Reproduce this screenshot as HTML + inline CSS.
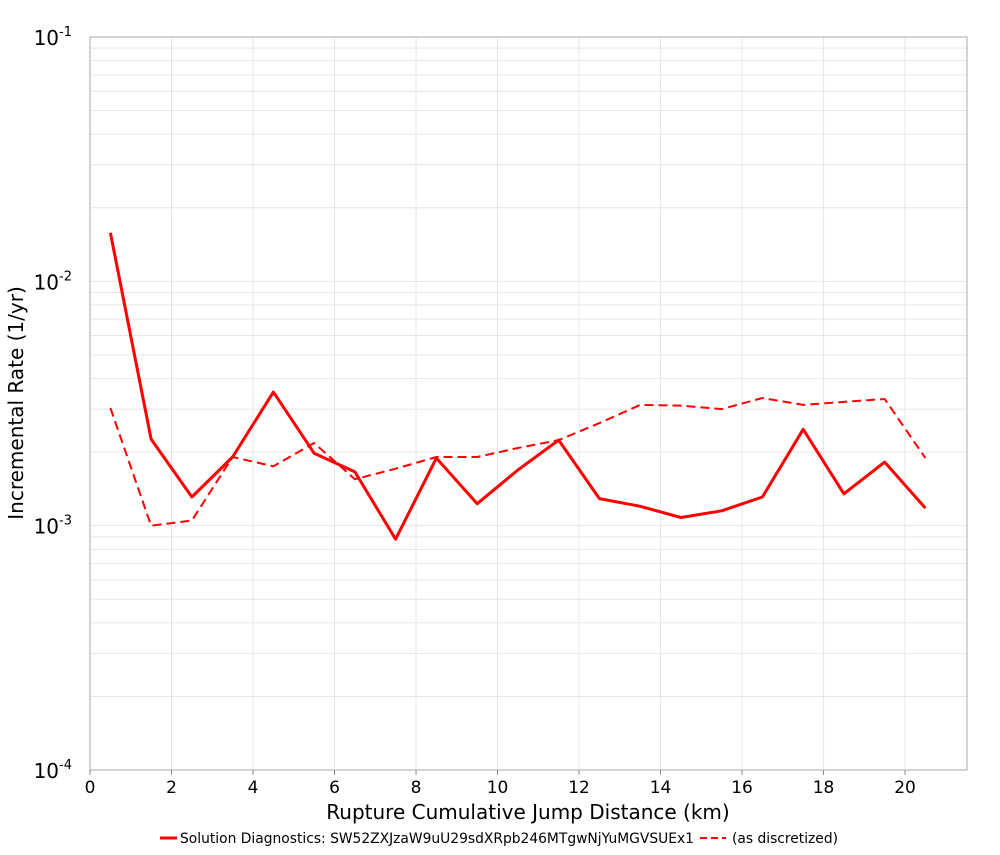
<!DOCTYPE html>
<html><head><meta charset="utf-8"><style>
body{margin:0;background:#fff;font-family:"Liberation Sans","DejaVu Sans",sans-serif}
</style></head><body>
<svg id="chart" width="1000" height="850" xmlns="http://www.w3.org/2000/svg" font-family="DejaVu Sans, Liberation Sans, sans-serif">
<g id="grid"></g>
<rect x="90" y="37" width="877" height="733" fill="none" stroke="#aaa" stroke-width="1"/>
<g id="axes"></g>
<g id="series"></g>
<text x="528" y="819" font-size="20" text-anchor="middle">Rupture Cumulative Jump Distance (km)</text>
<text transform="translate(23,403) rotate(-90)" font-size="20" text-anchor="middle">Incremental Rate (1/yr)</text>
<g>
<line x1="160" y1="838" x2="177" y2="838" stroke="#f00" stroke-width="3"/>
<text x="180" y="843" font-size="14" textLength="514" lengthAdjust="spacingAndGlyphs">Solution Diagnostics: SW52ZXJzaW9uU29sdXRpb246MTgwNjYuMGVSUEx1</text>
<line x1="700" y1="838" x2="726" y2="838" stroke="#f00" stroke-width="2" stroke-dasharray="7,4"/>
<text x="732" y="843" font-size="14" textLength="106" lengthAdjust="spacingAndGlyphs">(as discretized)</text>
</g>
</svg>
<script>
const xValues=[0.5,1.5,2.5,3.5,4.5,5.5,6.5,7.5,8.5,9.5,10.5,11.5,12.5,13.5,14.5,15.5,16.5,17.5,18.5,19.5,20.5];
const solidValues=[0.0158,0.00226,0.00131,0.00191,0.00352,0.00198,0.00166,0.00088,0.00189,0.00123,0.00169,0.00224,0.00129,0.00120,0.00108,0.00115,0.00131,0.00248,0.00135,0.00182,0.00118];
const dashedValues=[0.00303,0.00100,0.00105,0.00191,0.00175,0.00218,0.00155,0.00171,0.00191,0.00191,0.00208,0.00224,0.00263,0.00312,0.00310,0.00300,0.00333,0.00312,0.00321,0.00330,0.00189];
const xTicks=[0,2,4,6,8,10,12,14,16,18,20];
const yDecades=[-4,-3,-2,-1];
const NS="http://www.w3.org/2000/svg";
const L=90,R=967,T=37,B=770,XMAX=21.52;
const xs=v=>L+v/XMAX*(R-L);
const ys=v=>T+(-1-Math.log10(v))/3*(B-T);
function mk(tag,attrs,parent){const e=document.createElementNS(NS,tag);for(const k in attrs)e.setAttribute(k,attrs[k]);parent.appendChild(e);return e;}
const grid=document.getElementById('grid'),axes=document.getElementById('axes'),series=document.getElementById('series');
for(const d of [-4,-3,-2]){for(let m=1;m<10;m++){const y=ys(m*Math.pow(10,d));
const g=mk('line',{x1:L,x2:R,y1:y,y2:y,stroke:'#e6e6e6','stroke-width':1},grid);

}}
for(const t of xTicks){const x=xs(t);
const g=mk('line',{x1:x,x2:x,y1:T,y2:B,stroke:'#e6e6e6','stroke-width':1},grid);


const tk=mk('line',{x1:x,x2:x,y1:B,y2:B+5,stroke:'#888'},axes);


const tx=mk('text',{x:x,y:B+23,'font-size':17,'text-anchor':'middle'},axes);
tx.textContent=t;

}
for(const d of yDecades){const y=ys(Math.pow(10,d));
const tx=mk('text',{x:72,y:y+8,'font-size':20,'text-anchor':'end'},axes);
tx.textContent='10';
const sp=mk('tspan',{dy:-9,'font-size':13},tx);sp.textContent=String(d);

}
function path(vals){return vals.map((v,i)=>(i?'L':'M')+xs(xValues[i]).toFixed(1)+','+ys(v).toFixed(1)).join(' ');}
const p1=mk('path',{d:path(solidValues),fill:'none',stroke:'#f00','stroke-width':3,'stroke-linejoin':'round'},series);


const p2=mk('path',{d:path(dashedValues),fill:'none',stroke:'#f00','stroke-width':2,'stroke-dasharray':'9,5'},series);


</script>
</body></html>
